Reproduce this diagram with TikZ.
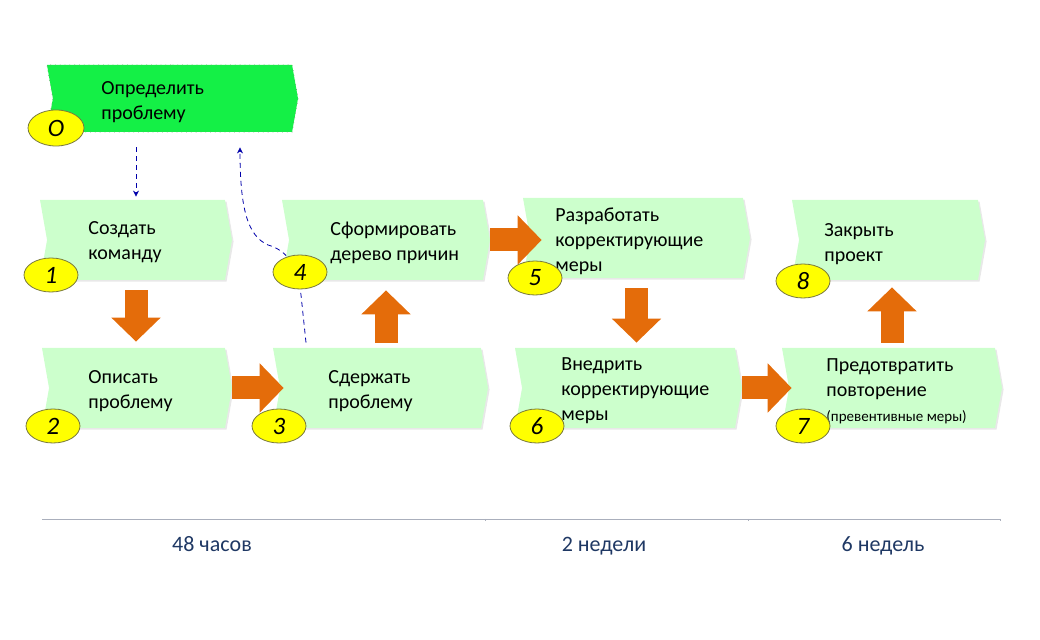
\documentclass[tikz,border=0pt]{standalone}
\usepackage{fontspec}
\setmainfont{Carlito}
\usetikzlibrary{arrows.meta,shapes.geometric,shapes.symbols,backgrounds,shadows}

\definecolor{stepgreen}{RGB}{204,255,204}
\definecolor{startgreen}{RGB}{20,240,70}
\definecolor{startedge}{RGB}{100,170,110}
\definecolor{numyellow}{RGB}{255,255,0}
\definecolor{numedge}{RGB}{120,120,60}
\definecolor{blockorange}{RGB}{228,108,10}
\definecolor{linkblue}{RGB}{0,0,170}
\definecolor{timegray}{RGB}{170,175,188}
\definecolor{timeblue}{RGB}{31,56,100}

\begin{document}
\begin{tikzpicture}[
    x=0.5pt, y=-0.5pt,
    chevron/.style={signal, signal from=west, signal to=east, signal pointer angle=160,
                inner sep=0pt, minimum height=40pt},
    stepbox/.style={chevron, fill=stepgreen,
                drop shadow={opacity=0.18, shadow xshift=0.8pt, shadow yshift=-0.8pt}},
    startbox/.style={chevron, fill=startgreen, draw=startedge, dotted, minimum height=33.5pt},
    txt/.style={anchor=west, align=left, inner sep=0pt,
                font=\fontsize{10}{12.5}\selectfont},
    num/.style={ellipse, draw=numedge, fill=numyellow, minimum width=27pt,
                minimum height=17pt, inner sep=0pt,
                font=\fontsize{12.5}{14}\selectfont\itshape},
    blockarrow/.style={draw=blockorange, line width=11.5pt,
                -{Triangle[width=24pt, length=12pt]}},
    dasharrow/.style={draw=linkblue, thin, dash pattern=on 2.5pt off 2pt,
                -{Stealth[length=3pt, width=3pt]}},
    period/.style={anchor=base, font=\fontsize{11}{13}\selectfont, text=timeblue}
]
\useasboundingbox (0,0) rectangle (1040,640);

\node[startbox, minimum width=125.5pt] (b0) at (172.5,98.5) {};
\node[stepbox, minimum width=96pt] (b1) at (136,240) {};
\node[stepbox, minimum width=95pt] (b2) at (137,388) {};
\node[stepbox, minimum width=107.5pt] (b3) at (380.5,388) {};
\node[stepbox, minimum width=104pt] (b4) at (386,240) {};
\node[stepbox, minimum width=113.5pt] (b5) at (636.5,238) {};
\node[stepbox, minimum width=113.5pt] (b6) at (628.5,388) {};
\node[stepbox, minimum width=110pt] (b7) at (892,388) {};
\node[stepbox, minimum width=96.5pt] (b8) at (888.5,240) {};

\node[txt] (t0) at (101,102) {Определить\\проблему};
\node[txt] (t1) at (88,242) {Создать\\команду};
\node[txt] (t2) at (88,391) {Описать\\проблему};
\node[txt] (t3) at (328,391) {Сдержать\\проблему};
\node[txt] (t4) at (330,243) {Сформировать\\дерево причин};
\node[txt] (t5) at (555,241) {Разработать\\корректирующие\\меры};
\node[txt] (t6) at (561,391) {Внедрить\\корректирующие\\меры};
\node[txt] (t7) at (826,391) {Предотвратить\\повторение\\{\fontsize{7.5}{9}\selectfont(превентивные меры)}};
\node[txt] (t8) at (824,244) {Закрыть\\проект};

\draw[blockarrow, shorten <=5pt, shorten >=3pt] (b1.south) -- (b1.south |- b2.north);
\draw[blockarrow, shorten >=-2pt] (b2.east) -- (b3.west);
\draw[blockarrow, shorten <=2.5pt, shorten >=5pt] (b4.south |- b3.north) -- (b4.south);
\draw[blockarrow, shorten >=-6pt] (b4.east) -- (b4.east -| b5.west);
\draw[blockarrow, shorten <=5pt, shorten >=2.5pt] (b5.south) -- (b5.south |- b6.north);
\draw[blockarrow, shorten >=-1.5pt] (b6.east) -- (b6.east -| b7.west);
\draw[blockarrow, shorten <=2.5pt, shorten >=3.5pt] (b7.north) -- (b7.north |- b8.south);

\node[num, minimum width=28pt, minimum height=18pt] (e0) at (56,128) {O};
\node[num] (e1) at (51,275) {1};
\node[num] (e2) at (53,426) {2};
\node[num] (e3) at (279,426) {3};
\node[num] (e4) at (300,272) {4};
\node[num] (e5) at (535,278) {5};
\node[num] (e6) at (537,426) {6};
\node[num] (e7) at (803,426) {7};
\node[num] (e8) at (803,281) {8};

\draw[dasharrow, shorten <=7.5pt] (b0.south -| b1.north) -- ([yshift=1.5pt]b1.north);
\begin{scope}[on background layer]
\draw[dasharrow] ([xshift=-37.25pt, yshift=2.5pt]b3.north) -- (301,295)
    .. controls (297,262) and (285,250) .. (268,245)
    .. controls (248,236) and (240,210) .. ([xshift=33.75pt, yshift=-7.5pt]b0.south);
\end{scope}

\draw[timegray, line width=0.5pt] (42,520) -- (1000,520);
\foreach \x in {485,748,1000}
    \draw[timegray, line width=0.4pt] (\x,519) -- (\x,521);
\node[period] (p1) at (212,552) {48 часов};
\node[period] (p2) at (604,552) {2 недели};
\node[period] (p3) at (883,552) {6 недель};

\end{tikzpicture}
\end{document}
